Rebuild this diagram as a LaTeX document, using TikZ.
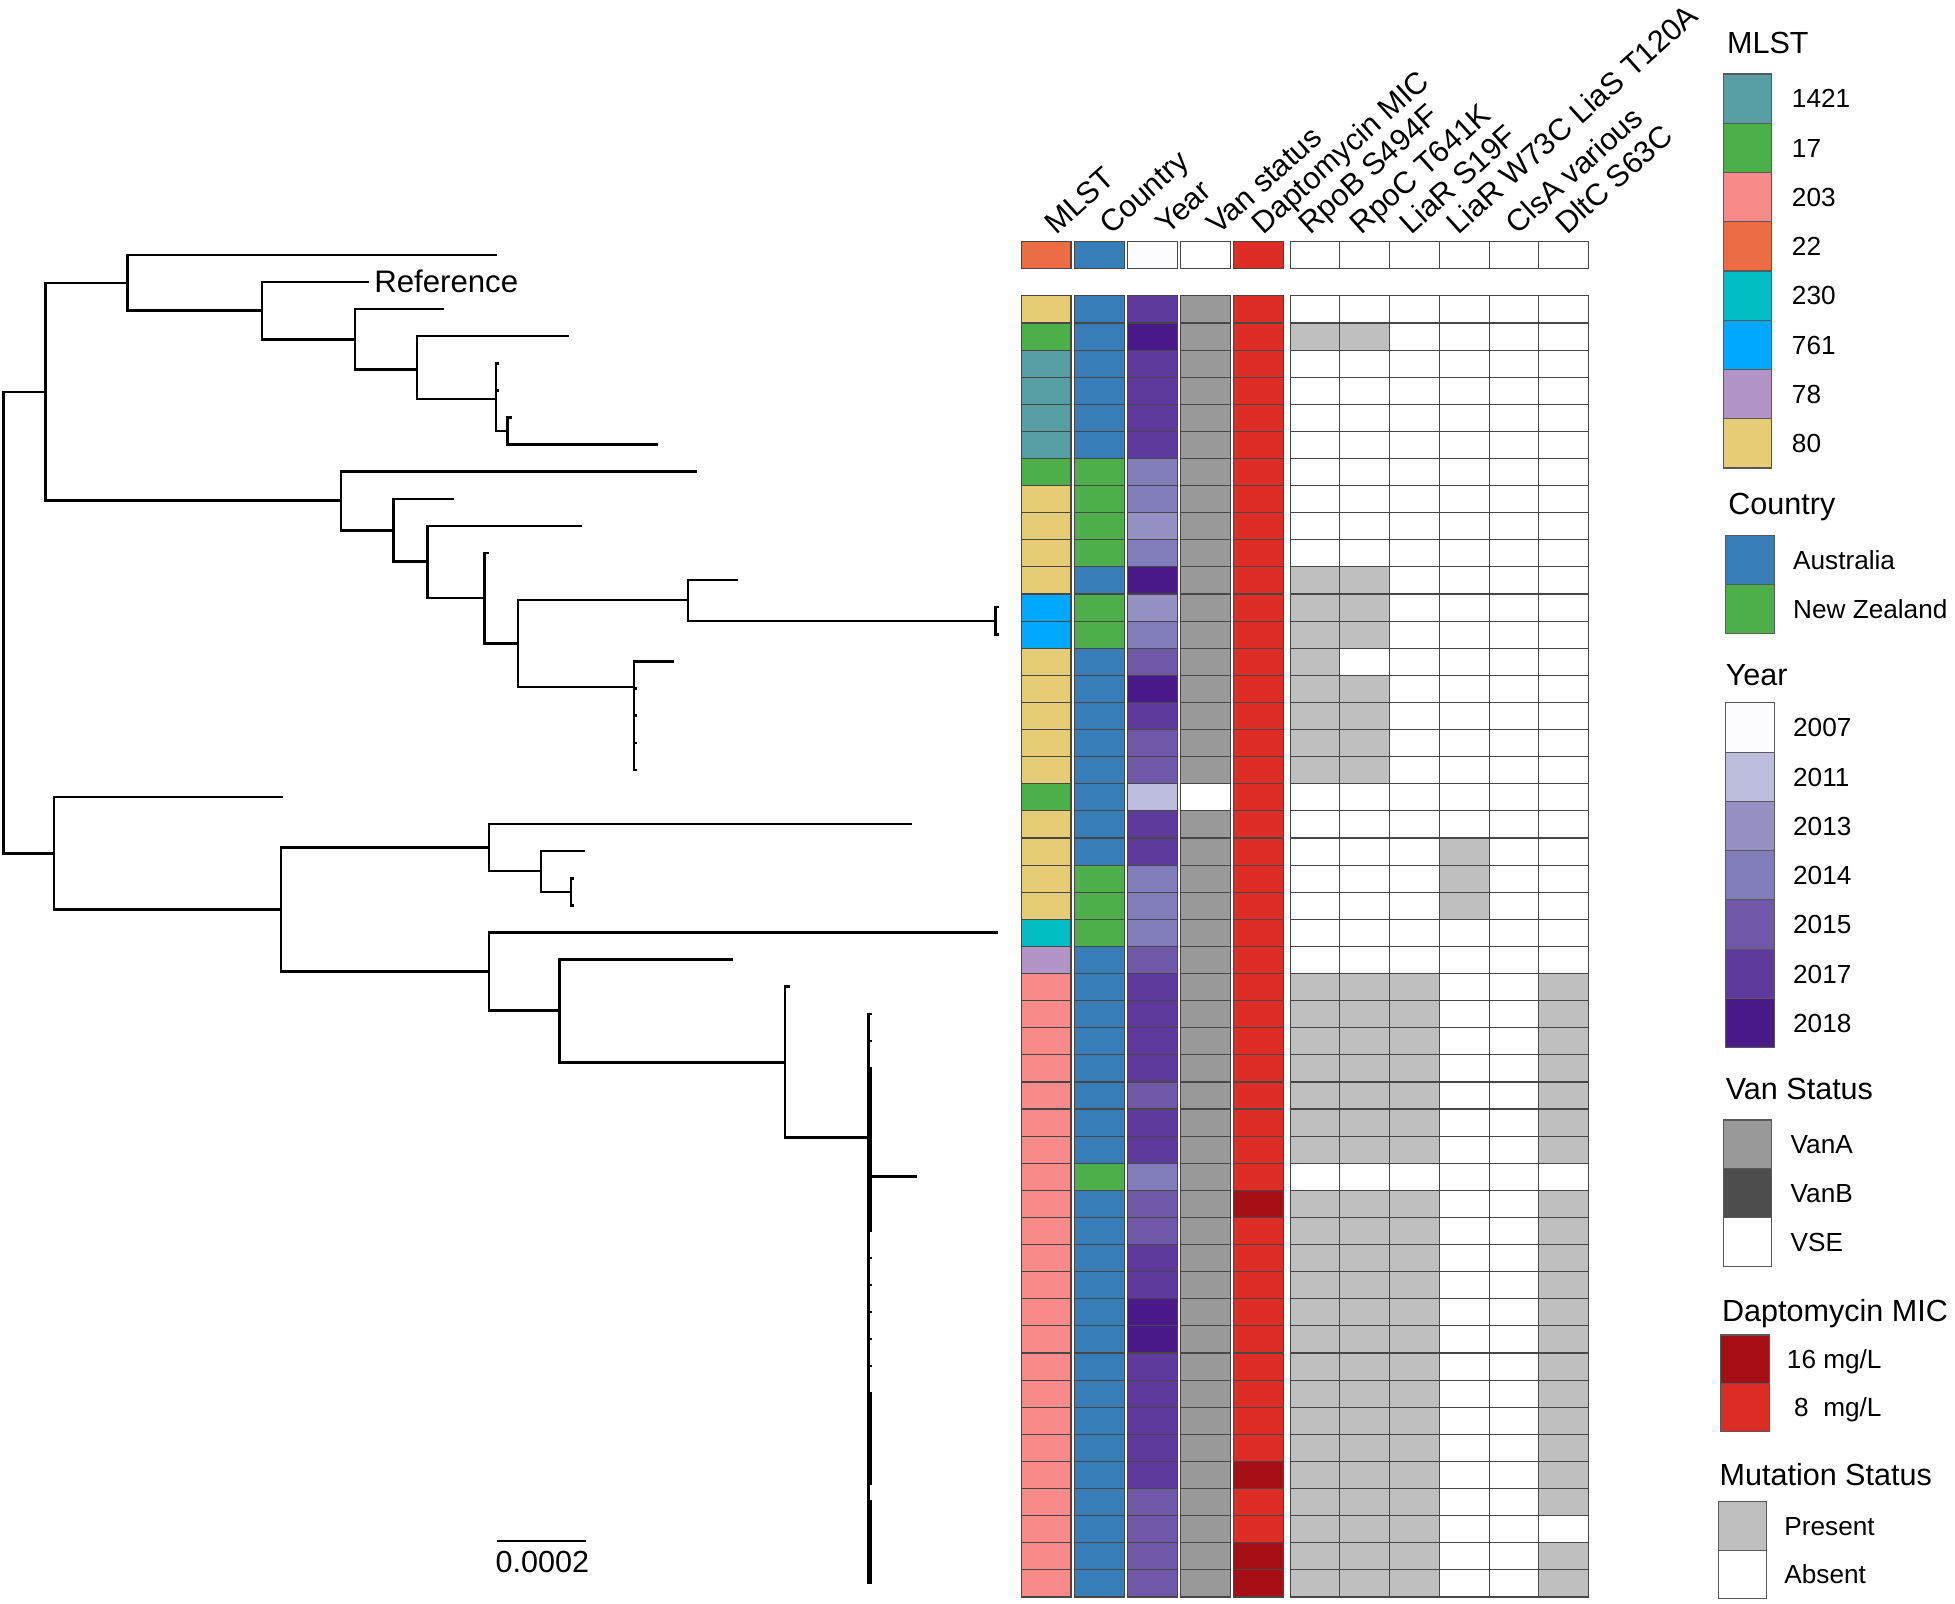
\documentclass[tikz,border=0pt]{standalone}
\usepackage{fontspec}
\setmainfont{Liberation Sans}
\definecolor{m1421}{HTML}{589EA5}
\definecolor{m17}{HTML}{4DAF4A}
\definecolor{m203}{HTML}{F88A89}
\definecolor{m22}{HTML}{EE6C45}
\definecolor{m230}{HTML}{00BEC4}
\definecolor{m761}{HTML}{00A9FF}
\definecolor{m78}{HTML}{B294C7}
\definecolor{m80}{HTML}{E6CC75}
\definecolor{cAU}{HTML}{377EB8}
\definecolor{cNZ}{HTML}{4DAF4A}
\definecolor{y2007}{HTML}{FCFBFD}
\definecolor{y2011}{HTML}{BCBDDC}
\definecolor{y2013}{HTML}{9591C5}
\definecolor{y2014}{HTML}{807DBA}
\definecolor{y2015}{HTML}{6F58A7}
\definecolor{y2017}{HTML}{5D3A9B}
\definecolor{y2018}{HTML}{4A1A8B}
\definecolor{vA}{HTML}{999999}
\definecolor{vB}{HTML}{4D4D4D}
\definecolor{vS}{HTML}{FFFFFF}
\definecolor{d16}{HTML}{A50F15}
\definecolor{d8}{HTML}{DE2D26}
\definecolor{mut1}{HTML}{BFBFBF}
\definecolor{mut0}{HTML}{FFFFFF}
\begin{document}
\begin{tikzpicture}[x=1pt,y=-1pt,
  tr/.style={line width=2pt,line cap=rect},
  cellb/.style={draw=black!72,line width=0.9pt},
  legb/.style={draw=black!65,line width=0.9pt},
  hdr/.style={rotate=42,anchor=base west,inner sep=0pt,font=\fontsize{24.5}{29}\selectfont},
  ltitle/.style={anchor=base west,inner sep=0pt,font=\fontsize{24.5}{29}\selectfont},
  leglab/.style={anchor=base west,inner sep=0pt,font=\fontsize{21}{25}\selectfont},
  reflab/.style={anchor=base west,inner sep=0pt,font=\fontsize{25}{29}\selectfont}]
\useasboundingbox (0,0) rectangle (1568,1286);
\fill[white] (0,0) rectangle (1568,1286);

% ---------------- tree ----------------
\coordinate (R0) at (3,499);
\coordinate (Up) at (36.5,314.2);
\coordinate (A) at (102.4,226.8);
\coordinate (B) at (210,249.2);
\coordinate (C) at (284.7,272.1);
\coordinate (D) at (334.4,296.4);
\coordinate (E) at (397.8,320);
\coordinate (F) at (407,345.7);
\coordinate (G) at (273.3,401.6);
\coordinate (H) at (315.7,425.3);
\coordinate (I) at (343,450.5);
\coordinate (J) at (388.6,479.5);
\coordinate (K) at (415.3,516);
\coordinate (L) at (552,481.4);
\coordinate (L2) at (798.4,497.9);
\coordinate (M) at (508.4,550.9);
\coordinate (Low) at (43.3,684.6);
\coordinate (O) at (225.4,729.6);
\coordinate (P) at (392.3,679.9);
\coordinate (Q) at (434,698.6);
\coordinate (R) at (458,715.3);
\coordinate (S) at (392.3,779.3);
\coordinate (T) at (448.6,810.6);
\coordinate (U) at (629.6,852);
\coordinate (V) at (696.4,912.5);
\foreach \k/\x in {0/397.8,1/294.7,2/355.4,3/455.6,4/399.6,5/399.6,6/410,7/526.7,
  8/558,9/362.8,10/466,11/390.8,12/591.2,13/800,14/800,15/539.8,16/510,17/510,18/510,19/510,
  20/225.9,21/730.3,22/468,23/459.5,24/459.5,25/799.2,26/586.9,27/632.8}
  \coordinate (t\k) at (\x,{204.4+21.74*\k});
\foreach \k in {28,...,49}
  \coordinate (t\k) at (698,{204.4+21.74*\k});
\coordinate (t34) at (734.7,{204.4+21.74*34});

\foreach \p/\c in {R0/Up,R0/Low,Up/A,Up/G,A/t0,A/B,B/t1,B/C,C/t2,C/D,D/t3,D/E,
  E/t4,E/t5,E/F,F/t6,F/t7,G/t8,G/H,H/t9,H/I,I/t10,I/J,J/t11,J/K,K/L,K/M,L/t12,L/L2,
  L2/t13,L2/t14,M/t15,M/t16,M/t17,M/t18,M/t19,Low/t20,Low/O,O/P,O/S,P/t21,P/Q,
  Q/t22,Q/R,R/t23,R/t24,S/t25,S/T,T/t26,T/U,U/t27,U/V}
  \draw[tr] (\p |- \c) -- (\c);
\foreach \k in {28,...,49}
  \draw[tr] (V |- t\k) -- (t\k);
\foreach \p/\a/\b in {R0/Up/Low,Up/A/G,A/t0/B,B/t1/C,C/t2/D,D/t3/E,E/t4/F,F/t6/t7,
  G/t8/H,H/t9/I,I/t10/J,J/t11/K,K/L/M,L/t12/L2,L2/t13/t14,M/t15/t19,Low/t20/O,
  O/P/S,P/t21/Q,Q/t22/R,R/t23/t24,S/t25/T,T/t26/U,U/t27/V,V/t28/t49}
  \draw[tr] (\p |- \a) -- (\p |- \b);
% thickened comb
\draw[tr] (698.4,856.6) -- (698.4,987.3);
\draw[tr] (698.4,1117.4) -- (698.4,1190);
\draw[tr] (698.4,1204) -- (698.4,1269.7);

\node[reflab] (reflabel) at (300,234.6) {Reference};

% scale bar
\coordinate (sbL) at (399,1236);
\coordinate (sbR) at (470,1236);
\draw[line width=2pt] (sbL) -- (sbR);
\node[anchor=base,inner sep=0pt,font=\fontsize{24.5}{29}\selectfont] (sbT) at (435,1261.4) {0.0002};

% ---------------- heatmap ----------------
\foreach \r/\ml/\co/\yr/\va/\da/\ma/\mb/\mc/\md/\me/\mf in {
 0/m22/cAU/y2007/vS/d8/0/0/0/0/0/0,
 1/m80/cAU/y2017/vA/d8/0/0/0/0/0/0,
 2/m17/cAU/y2018/vA/d8/1/1/0/0/0/0,
 3/m1421/cAU/y2017/vA/d8/0/0/0/0/0/0,
 4/m1421/cAU/y2017/vA/d8/0/0/0/0/0/0,
 5/m1421/cAU/y2017/vA/d8/0/0/0/0/0/0,
 6/m1421/cAU/y2017/vA/d8/0/0/0/0/0/0,
 7/m17/cNZ/y2014/vA/d8/0/0/0/0/0/0,
 8/m80/cNZ/y2014/vA/d8/0/0/0/0/0/0,
 9/m80/cNZ/y2013/vA/d8/0/0/0/0/0/0,
 10/m80/cNZ/y2014/vA/d8/0/0/0/0/0/0,
 11/m80/cAU/y2018/vA/d8/1/1/0/0/0/0,
 12/m761/cNZ/y2013/vA/d8/1/1/0/0/0/0,
 13/m761/cNZ/y2014/vA/d8/1/1/0/0/0/0,
 14/m80/cAU/y2015/vA/d8/1/0/0/0/0/0,
 15/m80/cAU/y2018/vA/d8/1/1/0/0/0/0,
 16/m80/cAU/y2017/vA/d8/1/1/0/0/0/0,
 17/m80/cAU/y2015/vA/d8/1/1/0/0/0/0,
 18/m80/cAU/y2015/vA/d8/1/1/0/0/0/0,
 19/m17/cAU/y2011/vS/d8/0/0/0/0/0/0,
 20/m80/cAU/y2017/vA/d8/0/0/0/0/0/0,
 21/m80/cAU/y2017/vA/d8/0/0/0/1/0/0,
 22/m80/cNZ/y2014/vA/d8/0/0/0/1/0/0,
 23/m80/cNZ/y2014/vA/d8/0/0/0/1/0/0,
 24/m230/cNZ/y2014/vA/d8/0/0/0/0/0/0,
 25/m78/cAU/y2015/vA/d8/0/0/0/0/0/0,
 26/m203/cAU/y2017/vA/d8/1/1/1/0/0/1,
 27/m203/cAU/y2017/vA/d8/1/1/1/0/0/1,
 28/m203/cAU/y2017/vA/d8/1/1/1/0/0/1,
 29/m203/cAU/y2017/vA/d8/1/1/1/0/0/1,
 30/m203/cAU/y2015/vA/d8/1/1/1/0/0/1,
 31/m203/cAU/y2017/vA/d8/1/1/1/0/0/1,
 32/m203/cAU/y2017/vA/d8/1/1/1/0/0/1,
 33/m203/cNZ/y2014/vA/d8/0/0/0/0/0/0,
 34/m203/cAU/y2015/vA/d16/1/1/1/0/0/1,
 35/m203/cAU/y2015/vA/d8/1/1/1/0/0/1,
 36/m203/cAU/y2017/vA/d8/1/1/1/0/0/1,
 37/m203/cAU/y2017/vA/d8/1/1/1/0/0/1,
 38/m203/cAU/y2018/vA/d8/1/1/1/0/0/1,
 39/m203/cAU/y2018/vA/d8/1/1/1/0/0/1,
 40/m203/cAU/y2017/vA/d8/1/1/1/0/0/1,
 41/m203/cAU/y2017/vA/d8/1/1/1/0/0/1,
 42/m203/cAU/y2017/vA/d8/1/1/1/0/0/1,
 43/m203/cAU/y2017/vA/d8/1/1/1/0/0/1,
 44/m203/cAU/y2017/vA/d16/1/1/1/0/0/1,
 45/m203/cAU/y2015/vA/d8/1/1/1/0/0/1,
 46/m203/cAU/y2015/vA/d8/1/1/1/0/0/0,
 47/m203/cAU/y2015/vA/d16/1/1/1/0/0/1,
 48/m203/cAU/y2015/vA/d16/1/1/1/0/0/1}
{
  \pgfmathsetmacro\yt{ifthenelse(\r==0,193.6,237.3+(\r-1)*21.74)}
  \foreach \j/\cc in {0/\ml,1/\co,2/\yr,3/\va,4/\da}{
    \draw[cellb,fill=\cc] ({819+\j*42.6},\yt) rectangle ++(40,21.74);
  }
  \foreach \j/\mm in {0/\ma,1/\mb,2/\mc,3/\md,4/\me,5/\mf}{
    \draw[cellb,fill=mut\mm] ({1034.7+\j*39.9},\yt) rectangle ++(39.9,21.74);
  }
}

% column headers
\node[hdr] (hMLST) at (847,189) {MLST};
\node[hdr] (hCountry) at (891,189) {Country};
\node[hdr] (hYear) at (936,189) {Year};
\node[hdr] (hVan) at (977,189) {Van status};
\node[hdr] (hDapto) at (1013,189) {Daptomycin MIC};
\node[hdr] (hRpoB) at (1051,189) {RpoB S494F};
\node[hdr] (hRpoC) at (1092,189) {RpoC T641K};
\node[hdr] (hLiaR) at (1132,189) {LiaR S19F};
\node[hdr] (hLiaRW) at (1170,189) {LiaR W73C LiaS T120A};
\node[hdr] (hClsA) at (1217,189) {ClsA various};
\node[hdr] (hDltC) at (1257,189) {DltC S63C};

% ---------------- legends ----------------
\node[ltitle] (tMLST) at (1385,43) {MLST};
\foreach \i/\cc/\lab in {0/m1421/1421,1/m17/17,2/m203/203,3/m22/22,4/m230/230,5/m761/761,6/m78/78,7/m80/80}{
  \draw[legb,fill=\cc] (1382,{59.3+\i*39.5}) rectangle ++(39,39.5);
  \node[leglab] (lm\i) at (1437,{59.3+\i*39.5+19.75+7.5}) {\lab};
}
\node[ltitle] (tCountry) at (1386,412.8) {Country};
\foreach \i/\cc/\lab in {0/cAU/Australia,1/cNZ/New Zealand}{
  \draw[legb,fill=\cc] (1384,{429.7+\i*39.2}) rectangle ++(39,39.2);
  \node[leglab] (lc\i) at (1438,{429.7+\i*39.2+19.6+7.5}) {\lab};
}
\node[ltitle] (tYear) at (1384,549.5) {Year};
\foreach \i/\cc/\lab in {0/y2007/2007,1/y2011/2011,2/y2013/2013,3/y2014/2014,4/y2015/2015,5/y2017/2017,6/y2018/2018}{
  \draw[legb,fill=\cc] (1384,{563.7+\i*39.5}) rectangle ++(39,39.5);
  \node[leglab] (ly\i) at (1438,{563.7+\i*39.5+19.75+7.5}) {\lab};
}
\node[ltitle] (tVan) at (1384,882) {Van Status};
\foreach \i/\cc/\lab in {0/vA/VanA,1/vB/VanB,2/vS/VSE}{
  \draw[legb,fill=\cc] (1382,{898.3+\i*39.2}) rectangle ++(39,39.2);
  \node[leglab] (lv\i) at (1436,{898.3+\i*39.2+19.6+7.5}) {\lab};
}
\node[ltitle] (tDapto) at (1381,1060.2) {Daptomycin MIC};
\draw[legb,fill=d16] (1380,1070.7) rectangle ++(39,38.8);
\draw[legb,fill=d8] (1380,1109.5) rectangle ++(39,38.8);
\node[leglab] (ld0) at (1433,{1070.7+19.4+7.5}) {16 mg/L};
\node[leglab] (ld1) at (1433,{1109.5+19.4+7.5}) {\makebox[1.112em][c]{8} mg/L};
\node[ltitle] (tMut) at (1379,1191.1) {Mutation Status};
\foreach \i/\cc/\lab in {0/mut1/Present,1/mut0/Absent}{
  \draw[legb,fill=\cc] (1378,{1204.4+\i*39}) rectangle ++(39,39);
  \node[leglab] (lp\i) at (1431,{1204.4+\i*39+19.5+7.5}) {\lab};
}
\end{tikzpicture}
\end{document}
